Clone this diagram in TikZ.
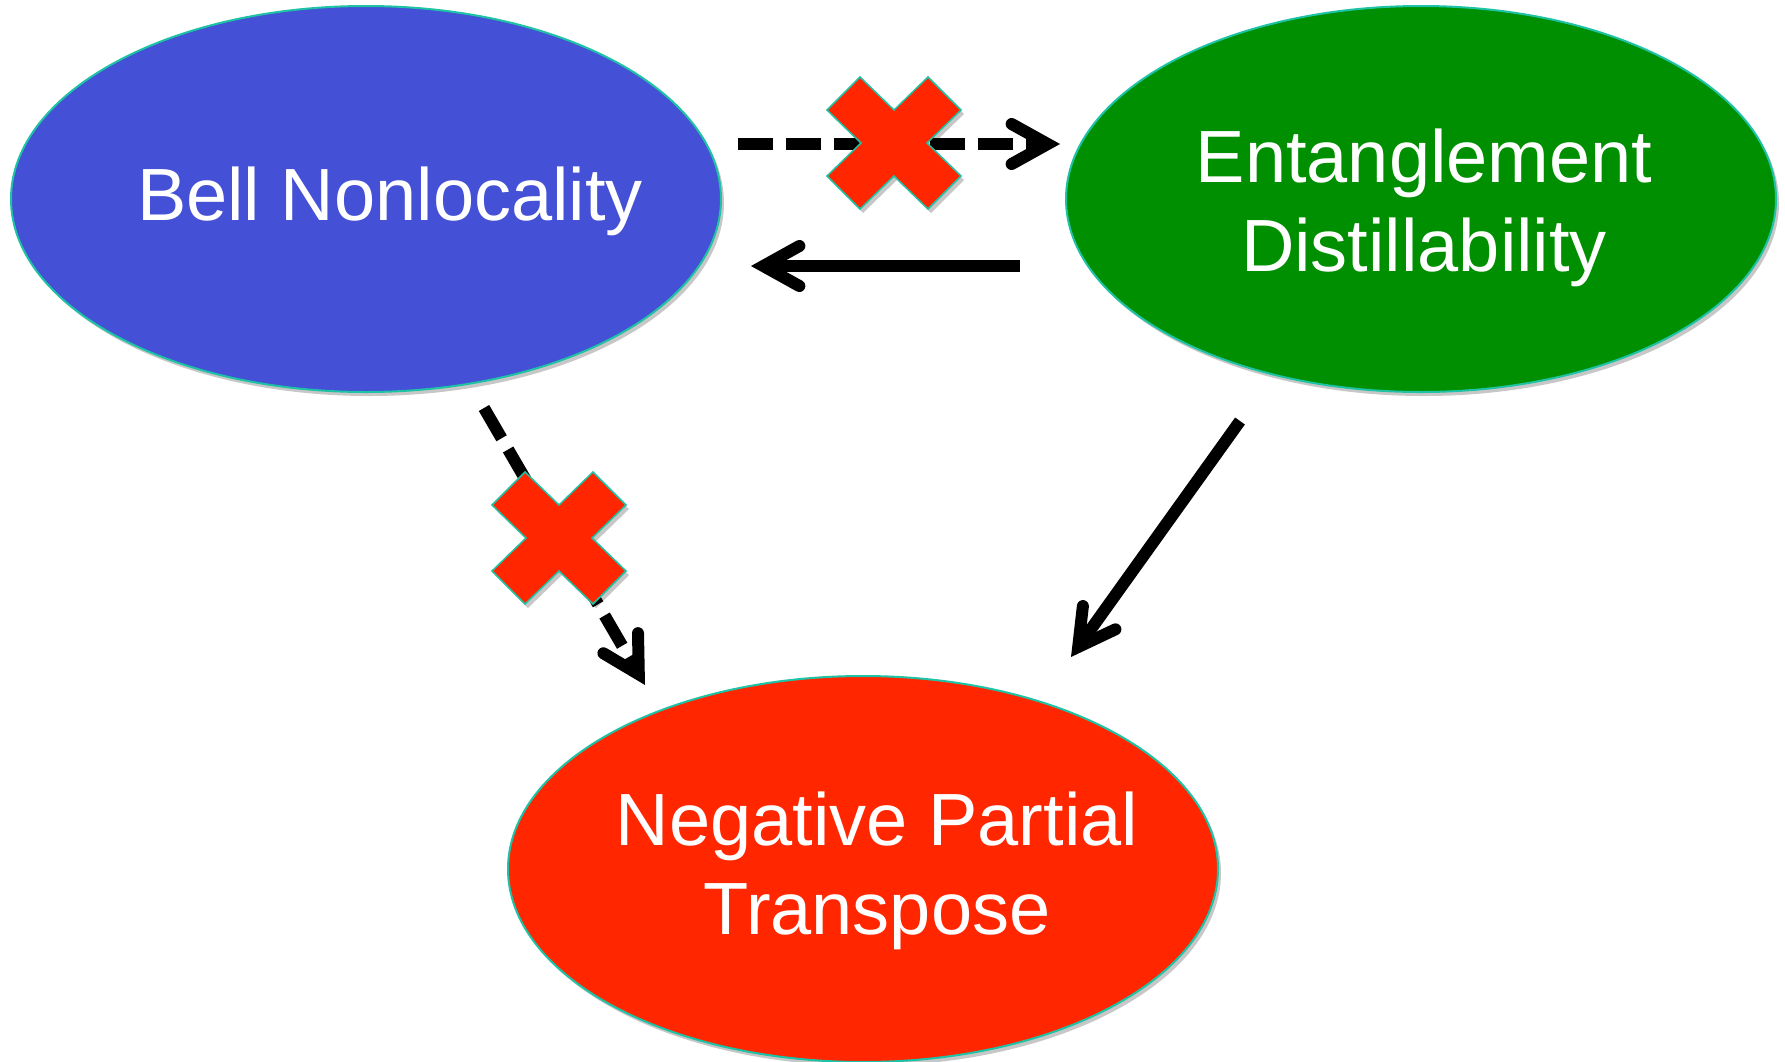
\documentclass[tikz,border=0pt]{standalone}
\usepackage{fontspec}
\setmainfont{Liberation Sans}
\usetikzlibrary{arrows.meta,shapes.geometric,shadows}

\definecolor{bellblue}{RGB}{68,80,213}
\definecolor{entgreen}{RGB}{0,143,0}
\definecolor{nptred}{RGB}{255,38,0}
\definecolor{rimteal}{RGB}{30,195,165}

\tikzset{
  softshadow/.style={drop shadow={shadow xshift=3pt, shadow yshift=-4pt, opacity=0.22, fill=black}},
  blob/.style={ellipse, draw=rimteal, line width=2pt, minimum width=710pt,
    minimum height=386pt, inner sep=0pt, softshadow},
  caption/.style={text=white, font=\fontsize{74}{89}\selectfont, align=center, inner sep=0pt},
  implies/.style={line width=12pt,
    -{Straight Barb[length=36pt, width=40pt, line width=12pt, line cap=round, line join=miter]}},
  fails/.style={implies, dash pattern=on 35pt off 13pt},
  nocross/.pic={
    \fill[nptred, draw=rimteal, line width=1.5pt, softshadow]
      (0,-33) -- (34,-66) -- (67,-33) -- (33,0) -- (67,33) -- (34,66) --
      (0,33) -- (-34,66) -- (-67,33) -- (-33,0) -- (-67,-33) -- (-34,-66) -- cycle;
  }
}

\begin{document}
\begin{tikzpicture}[x=1pt, y=-1pt]
  % canvas
  \fill[white] (0,0) rectangle (1785,1061);
  \useasboundingbox (0,0) rectangle (1785,1061);

  % the three properties
  \node[blob, fill=bellblue] (bell) at (366,199) {};
  \node[blob, fill=entgreen] (ent) at (1421,199) {};
  \node[blob, fill=nptred] (npt) at (863,869) {};

  \node[caption, anchor=base] (bellt) at (390,220) {Bell Nonlocality};
  \node[caption] (entt) at (1424,208) {Entanglement\\Distillability};
  \node[caption] (nptt) at (877,871) {Negative Partial\\Transpose};

  % arrow end points
  \coordinate (a1) at (738,144);  \coordinate (a2) at (1060,144);
  \coordinate (b1) at (1020,266); \coordinate (b2) at (751,266);
  \coordinate (c1) at (484,408);  \coordinate (c2) at (645,685);
  \coordinate (d1) at (1240,421); \coordinate (d2) at (1071,657);
  \coordinate (x1) at (894,143);  \coordinate (x2) at (559,538);

  % implications
  \draw[fails] (a1) -- (a2);
  \draw[implies] (b1) -- (b2);
  \draw[fails] (c1) -- (c2);
  \draw[implies] (d1) -- (d2);

  % crossed-out implications
  \pic at (x1) {nocross};
  \pic at (x2) {nocross};
\end{tikzpicture}
\end{document}
